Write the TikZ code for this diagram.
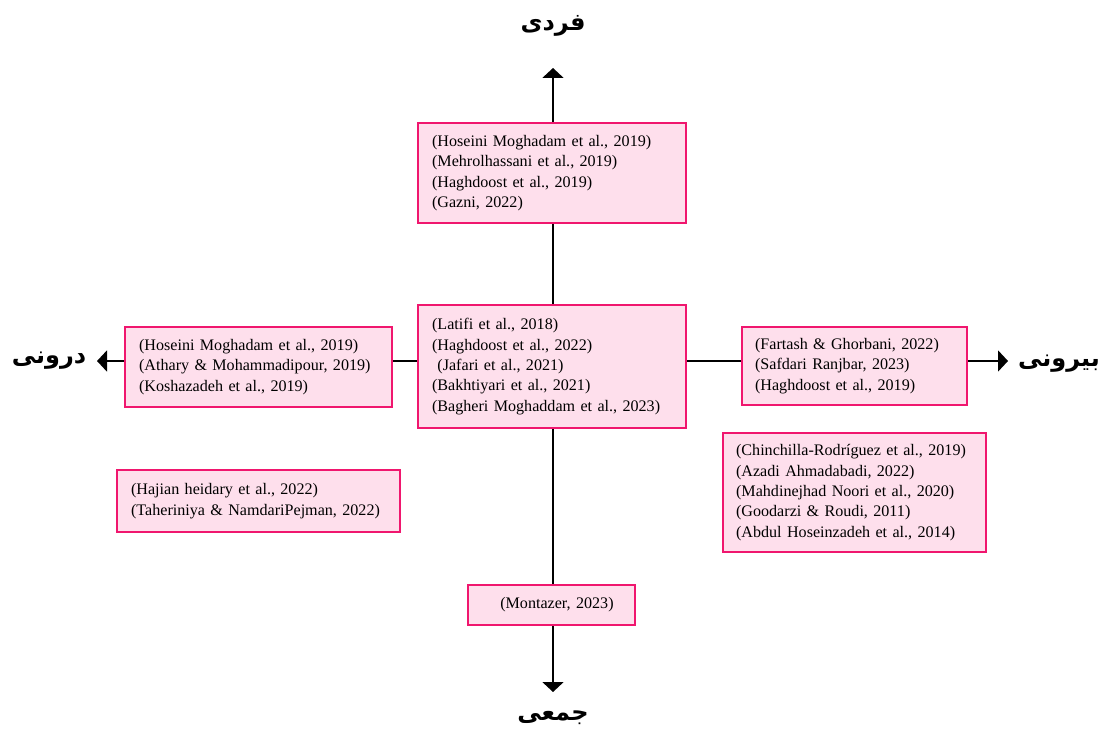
\documentclass[tikz,border=0pt]{standalone}
\usepackage{fontspec}
\setmainfont{Liberation Serif}
\newfontfamily\arabicfont[Script=Arabic]{DejaVu Sans}
\TeXXeTstate=1
\usetikzlibrary{arrows.meta}
\definecolor{boxfill}{HTML}{FEDFEC}
\definecolor{boxline}{HTML}{F0166E}
\tikzset{
  refbox/.style={draw=boxline, fill=boxfill, line width=2.2pt, inner xsep=14pt, inner ysep=0pt,
    anchor=north west, align=left, font=\fontsize{16.1}{20.4}\selectfont},
  axisline/.style={line width=2pt, black},
  axisarrow/.style={axisline, -{Triangle[width=21pt,length=10pt]}},
  axislabel/.style={font=\arabicfont\bfseries\fontsize{24}{28}\selectfont, inner sep=0pt}
}
\begin{document}
\begin{tikzpicture}[x=1pt,y=-1pt]
\useasboundingbox (0,0) rectangle (1105,733);
% arrow tips
\coordinate (tipN) at (553,68);
\coordinate (tipS) at (553,692);
\coordinate (tipW) at (97,361);
\coordinate (tipE) at (1008,361);
% boxes
\node[refbox, text width=240pt, minimum height=100pt] (topb) at (417,122)
  {(Hoseini Moghadam et al., 2019)\\(Mehrolhassani et al., 2019)\\(Haghdoost et al., 2019)\\(Gazni, 2022)};
\node[refbox, text width=240pt, minimum height=123pt] (cen) at (417,304)
  {(Latifi et al., 2018)\\(Haghdoost et al., 2022)\\\ (Jafari et al., 2021)\\(Bakhtiyari et al., 2021)\\(Bagheri Moghaddam et al., 2023)};
\node[refbox, text width=239pt, minimum height=80pt] (lft) at (124,326)
  {(Hoseini Moghadam et al., 2019)\\(Athary \& Mohammadipour, 2019)\\(Koshazadeh et al., 2019)};
\node[refbox, text width=199pt, minimum height=78pt, inner xsep=13pt] (rgt) at (741,326)
  {(Fartash \& Ghorbani, 2022)\\(Safdari Ranjbar, 2023)\\(Haghdoost et al., 2019)};
\node[refbox, text width=237pt, minimum height=119pt, inner xsep=13pt] (lr) at (722,432)
  {\mbox{(Chinchilla-Rodríguez et al., 2019)}\\(Azadi Ahmadabadi, 2022)\\(Mahdinejhad Noori et al., 2020)\\(Goodarzi \& Roudi, 2011)\\(Abdul Hoseinzadeh et al., 2014)};
\node[refbox, text width=255pt, minimum height=62pt] (ll) at (116,469)
  {(Hajian heidary et al., 2022)\\(Taheriniya \& NamdariPejman, 2022)};
\node[refbox, text width=139pt, minimum height=40pt, align=center] (mon) at (467,584)
  {\ \ (Montazer, 2023)};
% axis segments
\draw[axisarrow] (tipN |- topb.north) -- (tipN);
\draw[axisline] (tipN |- topb.south) -- (tipN |- cen.north);
\draw[axisline] (tipN |- cen.south) -- (tipN |- mon.north);
\draw[axisarrow] (tipN |- mon.south) -- (tipS);
\draw[axisarrow] (lft.west |- tipW) -- (tipW);
\draw[axisline] (lft.east |- tipW) -- (cen.west |- tipW);
\draw[axisline] (cen.east |- tipW) -- (rgt.west |- tipW);
\draw[axisarrow] (rgt.east |- tipW) -- (tipE);
% axis labels
\node[axislabel] (lblN) at (553,26) {\beginR فردی\endR};
\node[axislabel] (lblS) at (553,718) {\beginR جمعی\endR};
\node[axislabel] (lblW) at (49,361) {\beginR درونی\endR};
\node[axislabel] (lblE) at (1059,364) {\beginR بیرونی\endR};
\end{tikzpicture}
\end{document}
